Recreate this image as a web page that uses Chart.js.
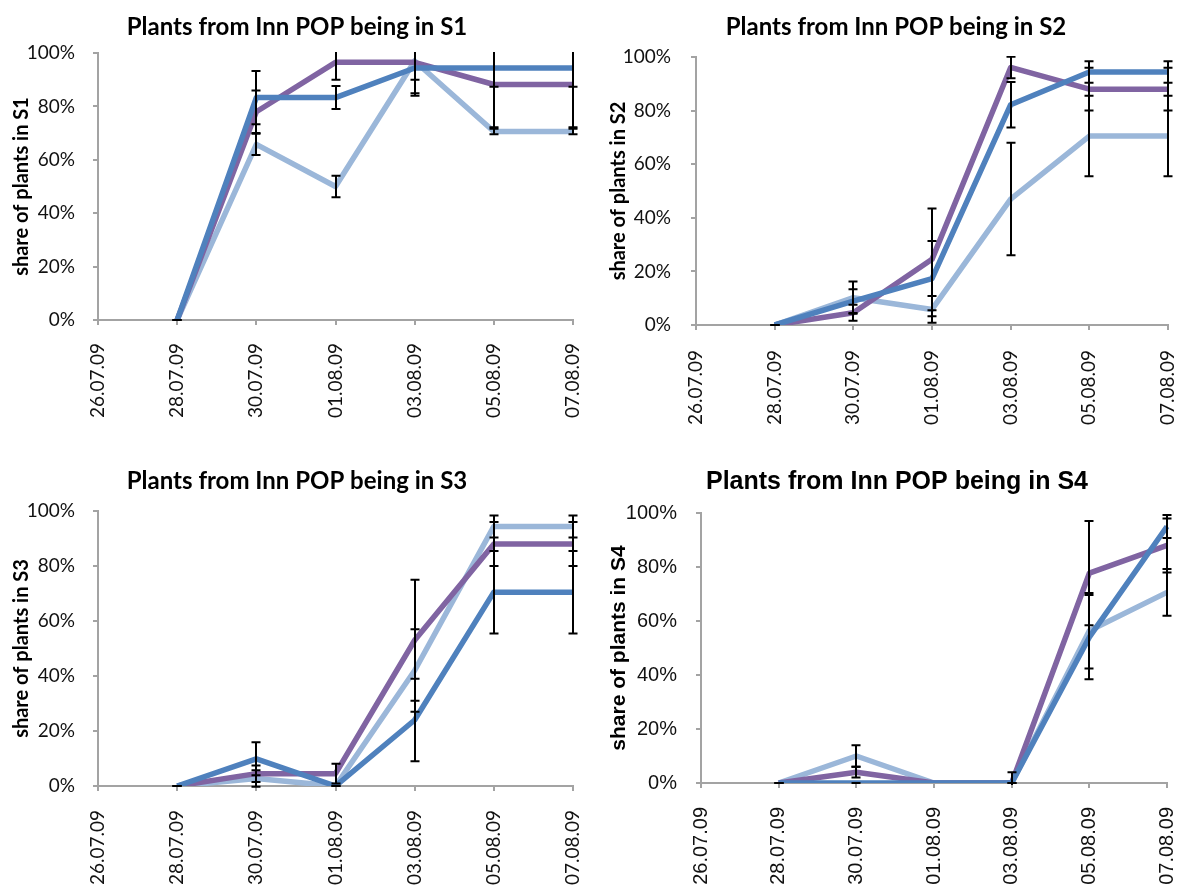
<!DOCTYPE html>
<html>
<head>
<meta charset="utf-8">
<script src="https://cdn.jsdelivr.net/npm/chart.js@4.4.0/dist/chart.umd.min.js"></script>
<style>
  html, body { margin: 0; padding: 0; background: #fff; }
  body { width: 1180px; height: 889px; position: relative; overflow: hidden; }
  canvas { position: absolute; }
</style>
</head>
<body>
<canvas id="panelS1" width="590" height="445" style="left:0px;top:0px"></canvas>
<canvas id="panelS2" width="590" height="445" style="left:590px;top:0px"></canvas>
<canvas id="panelS3" width="590" height="444" style="left:0px;top:445px"></canvas>
<canvas id="panelS4" width="590" height="444" style="left:590px;top:445px"></canvas>
<script>
// Sampling dates (x axis categories)
const dateLabels = ['26.07.09', '28.07.09', '30.07.09', '01.08.09', '03.08.09', '05.08.09', '07.08.09'];
const yTickValues = [0, 20, 40, 60, 80, 100];

// Stage S1: share of plants (%) and error half-widths (%)
const s1Purple       = [null, 0, 78.0, 96.5, 96.5, 88.2, 88.2];
const s1PurpleErr    = [null, 0, 8.0, 6.5, 6.5, 16.0, 16.0];
const s1DarkBlue     = [null, 0, 83.3, 83.3, 94.4, 94.4, 94.4];
const s1DarkBlueErr  = [null, 0, 10.0, 4.3, 9.5, 7.0, 7.0];
const s1LightBlue    = [null, 0, 65.8, 50.0, 97.0, 70.6, 70.6];
const s1LightBlueErr = [null, 0, 4.0, 4.0, 13.0, 1.0, 1.0];

// Stage S2
const s2Purple       = [null, 0, 4.6, 24.5, 96.1, 88.0, 88.0];
const s2PurpleErr    = [null, 0, 3.0, 19.0, 4.0, 8.0, 8.0];
const s2DarkBlue     = [null, 0, 8.9, 17.3, 82.2, 94.4, 94.4];
const s2DarkBlueErr  = [null, 0, 4.4, 14.0, 8.5, 4.0, 4.0];
const s2LightBlue    = [null, 0, 10.2, 5.8, 47.0, 70.5, 70.5];
const s2LightBlueErr = [null, 0, 6.0, 5.0, 21.0, 15.0, 15.0];

// Stage S3
const s3Purple       = [null, 0, 4.5, 4.5, 53.0, 88.0, 88.0];
const s3PurpleErr    = [null, 0, 3.0, 3.6, 22.0, 8.0, 8.0];
const s3DarkBlue     = [null, 0, 9.9, 0, 24.0, 70.5, 70.5];
const s3DarkBlueErr  = [null, 0, 6.0, 0, 15.0, 15.0, 15.0];
const s3LightBlue    = [null, 0, 2.7, 0, 42.0, 94.4, 94.4];
const s3LightBlueErr = [null, 0, 3.0, 0, 15.0, 4.0, 4.0];

// Stage S4
const s4Purple       = [null, 0, 4.0, 0, 0, 77.7, 88.0];
const s4PurpleErr    = [null, 0, 2.0, null, 4.0, 19.3, 10.0];
const s4DarkBlue     = [null, 0, 0, 0, 0, 54.0, 95.0];
const s4DarkBlueErr  = [null, 0, 0, null, 0, 15.6, 4.3];
const s4LightBlue    = [null, 0, 10.0, 0, 0, 56.4, 70.6];
const s4LightBlueErr = [null, 0, 4.0, null, 0, 14.0, 8.7];

const PURPLE = '#8064A2';
const DARK_BLUE = '#4F81BD';
const LIGHT_BLUE = '#9BB7D9';
const AXIS_GREY = '#a3a3a3';
const CAP_HALF = 4.5;

// Vertical error bars with caps, drawn through the chart's own scales
const errorBars = {
  id: 'errorBars',
  afterDatasetsDraw(chart) {
    const { ctx, chartArea, scales } = chart;
    const xs = scales.x, ys = scales.y;
    ctx.save();
    ctx.beginPath();
    ctx.rect(chartArea.left - 12, chartArea.top - 1, chartArea.right - chartArea.left + 24, chartArea.bottom - chartArea.top + 3);
    ctx.clip();
    ctx.strokeStyle = '#000';
    ctx.lineWidth = 2;
    chart.data.datasets.forEach(ds => {
      ds.data.forEach((v, i) => {
        const e = ds.errors ? ds.errors[i] : null;
        if (v === null || e === null || e === undefined) return;
        const px = Math.round(xs.getPixelForValue(i));
        const hi = ys.getPixelForValue(v + e);
        const lo = ys.getPixelForValue(v - e);
        ctx.beginPath();
        ctx.moveTo(px, hi); ctx.lineTo(px, lo);
        ctx.moveTo(px - CAP_HALF, hi); ctx.lineTo(px + CAP_HALF, hi);
        ctx.moveTo(px - CAP_HALF, lo); ctx.lineTo(px + CAP_HALF, lo);
        ctx.stroke();
      });
    });
    ctx.restore();
  }
};

// Panel heading, centred over the panel
const panelTitle = {
  id: 'panelTitle',
  afterDraw(chart, args, opts) {
    const ctx = chart.ctx;
    ctx.save();
    ctx.font = opts.font;
    ctx.fillStyle = '#000';
    ctx.textAlign = 'center';
    ctx.textBaseline = 'alphabetic';
    ctx.fillText(opts.text, opts.x, opts.y);
    ctx.restore();
  }
};

function lineSet(values, errors, color) {
  return {
    data: values,
    errors: errors,
    borderColor: color,
    backgroundColor: color,
    borderWidth: 5.5,
    pointRadius: 0,
    pointHoverRadius: 0,
    tension: 0,
    fill: false,
    borderJoinStyle: 'round',
    borderCapStyle: 'butt'
  };
}

function buildPanel(id, p) {
  const tickFont = { family: p.family, size: p.tickSize };
  return new Chart(document.getElementById(id), {
    type: 'line',
    data: {
      labels: dateLabels,
      datasets: [
        lineSet(p.dark, p.darkErr, DARK_BLUE),
        lineSet(p.purple, p.purpleErr, PURPLE),
        lineSet(p.light, p.lightErr, LIGHT_BLUE)
      ]
    },
    options: {
      responsive: false,
      animation: false,
      events: [],
      layout: { padding: { top: p.top, right: p.padRight, left: 0, bottom: 0 } },
      plugins: {
        legend: { display: false },
        tooltip: { enabled: false },
        title: { display: false },
        panelTitle: { text: p.title, font: p.titleFont, x: p.titleX, y: p.titleY }
      },
      scales: {
        x: {
          type: 'category',
          offset: false,
          grid: { drawOnChartArea: false, color: AXIS_GREY, tickColor: AXIS_GREY, lineWidth: 2, tickLength: 5 },
          border: { color: AXIS_GREY, width: 2 },
          ticks: { autoSkip: false, minRotation: 90, maxRotation: 90, padding: p.xPad, color: '#111', font: tickFont },
          afterFit(scale) {
            scale.height = p.xHeight;
            scale.paddingLeft = 0;
            scale.paddingRight = 0;
          }
        },
        y: {
          min: 0,
          max: 100,
          afterBuildTicks(scale) { scale.ticks = yTickValues.map(v => ({ value: v })); },
          ticks: { padding: p.yPad, color: '#111', font: tickFont, callback: v => v + '%' },
          grid: { drawOnChartArea: false, color: AXIS_GREY, tickColor: AXIS_GREY, lineWidth: 2, tickLength: 5 },
          border: { color: AXIS_GREY, width: 2 },
          title: {
            display: true,
            text: p.yTitle,
            color: '#000',
            font: { family: p.family, size: p.yTitleSize, weight: 'bold' },
            padding: { top: p.yTitlePad, bottom: 0 }
          },
          afterFit(scale) { scale.width = p.yWidth; }
        }
      }
    },
    plugins: [errorBars, panelTitle]
  });
}

const HUMANIST = 'Lato, "Open Sans", sans-serif';
const ARIAL = '"Liberation Sans", Arial, sans-serif';

buildPanel('panelS1', {
  title: 'Plants from Inn POP being in S1', titleFont: 'bold 24px ' + HUMANIST, titleX: 297, titleY: 35,
  yTitle: 'share of plants in S1', yTitleSize: 20, yTitlePad: 10, family: HUMANIST, tickSize: 19,
  top: 53, padRight: 17, yWidth: 98, xHeight: 125, xPad: 18, yPad: 18,
  purple: s1Purple, purpleErr: s1PurpleErr, dark: s1DarkBlue, darkErr: s1DarkBlueErr, light: s1LightBlue, lightErr: s1LightBlueErr
});

buildPanel('panelS2', {
  title: 'Plants from Inn POP being in S2', titleFont: 'bold 24px ' + HUMANIST, titleX: 306, titleY: 35,
  yTitle: 'share of plants in S2', yTitleSize: 20, yTitlePad: 17, family: HUMANIST, tickSize: 19,
  top: 57, padRight: 12, yWidth: 106, xHeight: 120, xPad: 20, yPad: 20,
  purple: s2Purple, purpleErr: s2PurpleErr, dark: s2DarkBlue, darkErr: s2DarkBlueErr, light: s2LightBlue, lightErr: s2LightBlueErr
});

buildPanel('panelS3', {
  title: 'Plants from Inn POP being in S3', titleFont: 'bold 24px ' + HUMANIST, titleX: 297, titleY: 44,
  yTitle: 'share of plants in S3', yTitleSize: 20, yTitlePad: 10, family: HUMANIST, tickSize: 19,
  top: 66, padRight: 17, yWidth: 98, xHeight: 103, xPad: 19, yPad: 18,
  purple: s3Purple, purpleErr: s3PurpleErr, dark: s3DarkBlue, darkErr: s3DarkBlueErr, light: s3LightBlue, lightErr: s3LightBlueErr
});

buildPanel('panelS4', {
  title: 'Plants from Inn POP being in S4', titleFont: 'bold 25px ' + ARIAL, titleX: 307, titleY: 44,
  yTitle: 'share of plants in S4', yTitleSize: 21, yTitlePad: 17, family: ARIAL, tickSize: 20,
  top: 68, padRight: 13, yWidth: 111, xHeight: 106, xPad: 19, yPad: 19,
  purple: s4Purple, purpleErr: s4PurpleErr, dark: s4DarkBlue, darkErr: s4DarkBlueErr, light: s4LightBlue, lightErr: s4LightBlueErr
});
</script>
</body>
</html>
